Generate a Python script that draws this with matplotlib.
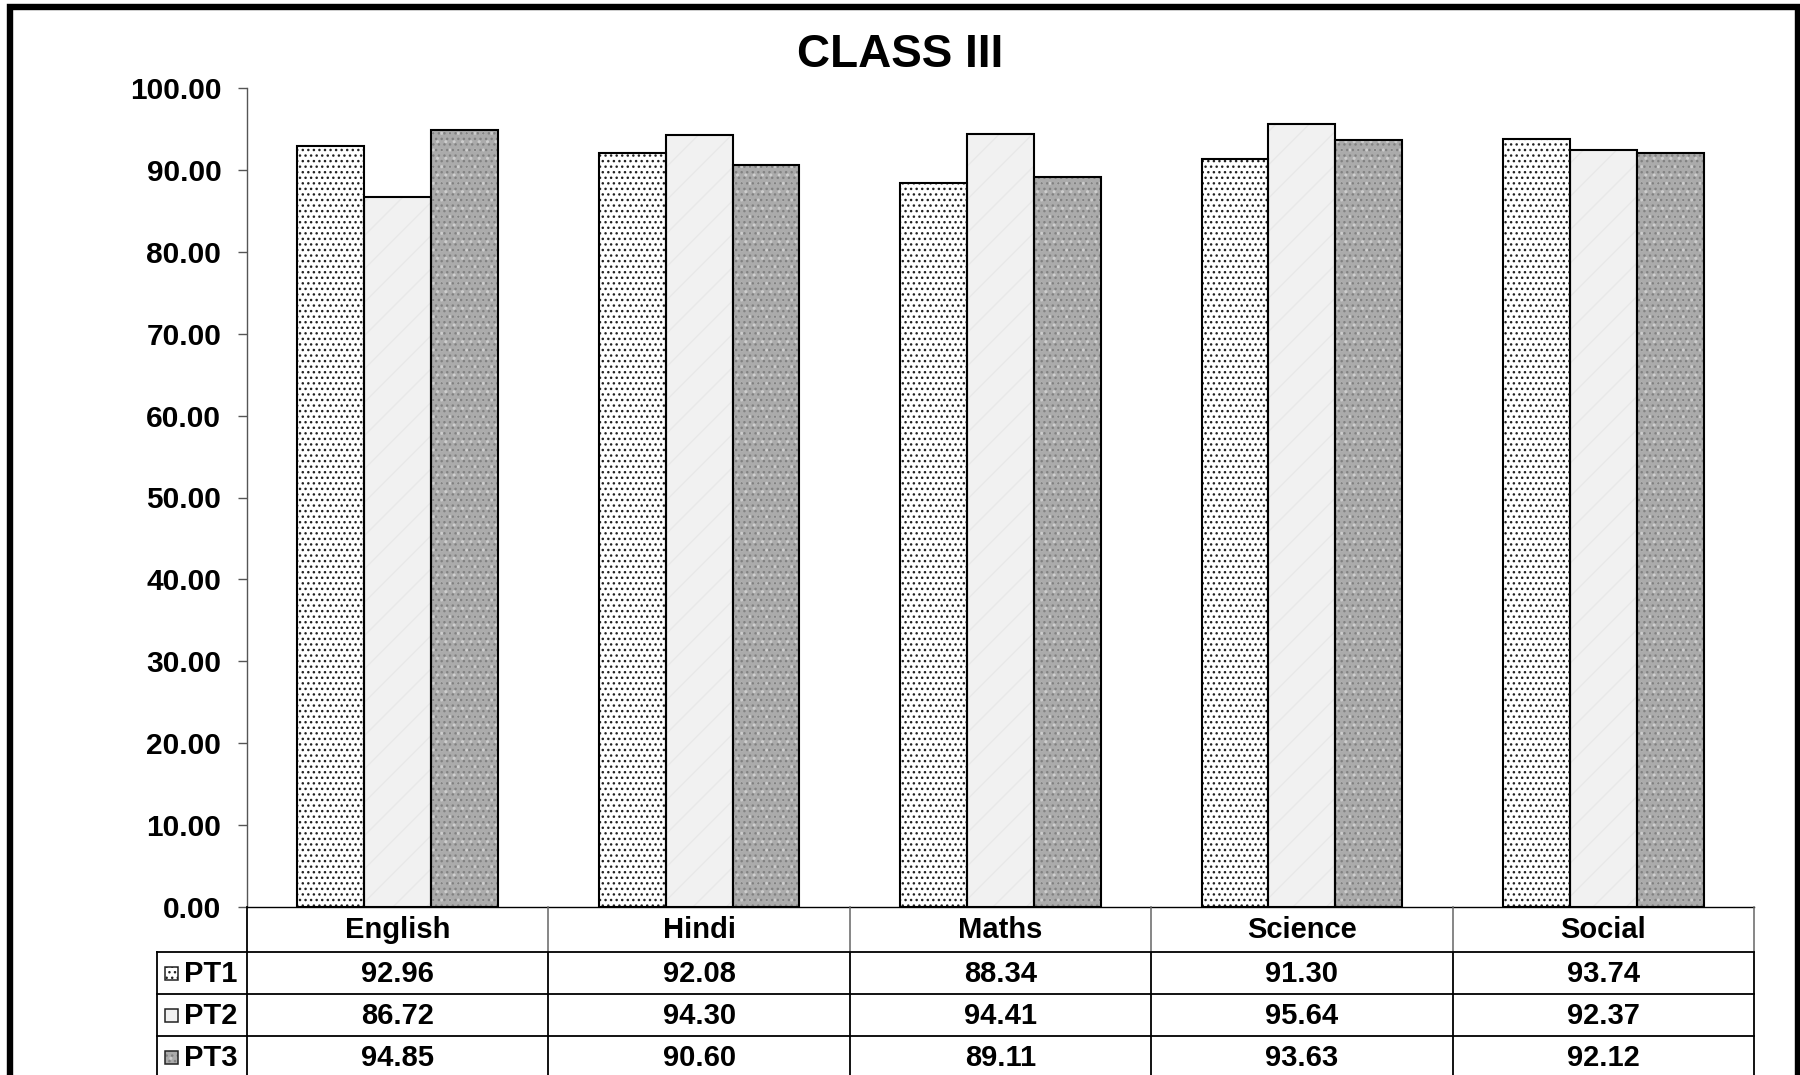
import matplotlib
matplotlib.use('Agg')
import matplotlib.pyplot as plt
from matplotlib.patches import Rectangle
import numpy as np

plt.rcParams['font.family'] = ['Liberation Sans', 'DejaVu Sans']
plt.rcParams['font.weight'] = 'bold'
plt.rcParams['hatch.linewidth'] = 1.0

subjects = ['English', 'Hindi', 'Maths', 'Science', 'Social']
tests = ['PT1', 'PT2', 'PT3']
pt1 = [92.96, 92.08, 88.34, 91.30, 93.74]
pt2 = [86.72, 94.30, 94.41, 95.64, 92.37]
pt3 = [94.85, 90.60, 89.11, 93.63, 92.12]
series = [pt1, pt2, pt3]

# fill + hatch layers per test (stipple, light marble, grey granite)
styles = [
    dict(face='white', layers=[('...', '#222222')]),
    dict(face='#f1f1f1', layers=[('/', '#e8e8e8')]),
    dict(face='#ababab', layers=[('..', '#cdcdcd'), ('...', '#828282')]),
]

W, H = 1800, 1075
fig = plt.figure(figsize=(W / 100, H / 100), dpi=100)

# main plot area (pixel layout of the reference)
left, right, top, base = 247, 1754, 88, 907
ax = fig.add_axes([left / W, 1 - base / H, (right - left) / W, (base - top) / H])

x = np.arange(len(subjects))
bw = 0.222

def draw_bar(a, xs, ys, st, w):
    a.bar(xs, ys, w, color=st['face'], linewidth=0, zorder=2)
    for h, c in st['layers']:
        a.bar(xs, ys, w, facecolor='none', edgecolor=c, hatch=h, linewidth=0, zorder=3)
    a.bar(xs, ys, w, facecolor='none', edgecolor='black', linewidth=1.5, zorder=4)

for k, (vals, st) in enumerate(zip(series, styles)):
    draw_bar(ax, x + (k - 1) * bw, vals, st, bw)

ax.set_xlim(-0.5, len(subjects) - 0.5)
ax.set_ylim(0, 100)
ticks = np.arange(0, 101, 10)
ax.set_yticks(ticks)
ax.set_yticklabels([f'{v:.2f}' for v in ticks], fontsize=21.5, fontweight='bold')
ax.set_xticks([])
ax.tick_params(axis='y', length=6.5, width=1.0, pad=12, color='#555555')
for s in ('top', 'right'):
    ax.spines[s].set_visible(False)
ax.spines['left'].set_color('#555555')
ax.spines['left'].set_linewidth(1.0)
ax.spines['bottom'].set_color('black')
ax.spines['bottom'].set_linewidth(1.0)

fig.text(0.5, 1 - 55 / H, 'CLASS III', ha='center', va='center',
         fontsize=33, fontweight='bold')

# data table under the plot
rows = [0, 45, 87, 129, 171]
tax = fig.add_axes([left / W, 1 - (base + rows[-1]) / H, (right - left) / W, rows[-1] / H])
tax.set_xlim(-0.5, len(subjects) - 0.5)
tax.set_ylim(rows[-1], 0)
tax.axis('off')
lab_x = -0.5 - 90 / ((right - left) / len(subjects))
kw = dict(color='black', linewidth=1.3, clip_on=False, solid_capstyle='projecting')

for r in rows[1:]:
    tax.plot([lab_x, len(subjects) - 0.5], [r, r], **kw)
tax.plot([-0.5, -0.5], [0, rows[-1]], **kw)
tax.plot([lab_x, lab_x], [rows[1], rows[-1]], **kw)
for j in range(len(subjects)):
    tax.plot([j + 0.5, j + 0.5], [0, rows[1]], color='#666666', linewidth=1.1, clip_on=False)
    tax.plot([j + 0.5, j + 0.5], [rows[1], rows[-1]], **kw)

for j, name in enumerate(subjects):
    tax.text(j, (rows[0] + rows[1]) / 2 + 1, name, ha='center', va='center',
             fontsize=21, fontweight='bold', clip_on=False)
for i, (lab, vals, st) in enumerate(zip(tests, series, styles)):
    yc = (rows[i + 1] + rows[i + 2]) / 2 + 1
    for j, v in enumerate(vals):
        tax.text(j, yc, f'{v:.2f}', ha='center', va='center',
                 fontsize=21, fontweight='bold', clip_on=False)
    # legend key + label
    kx = lab_x + 0.027
    kwid = 0.043
    ky = yc - 7
    tax.add_patch(Rectangle((kx, ky), kwid, 13, facecolor=st['face'], linewidth=0, clip_on=False))
    for h, c in st['layers']:
        tax.add_patch(Rectangle((kx, ky), kwid, 13, facecolor='none', edgecolor=c,
                                hatch=h, linewidth=0, clip_on=False))
    tax.add_patch(Rectangle((kx, ky), kwid, 13, facecolor='none', edgecolor='#222222',
                            linewidth=1.1, clip_on=False))
    tax.text(kx + kwid + 0.02, yc, lab, ha='left', va='center',
             fontsize=21, fontweight='bold', clip_on=False)

# outer frame
fig.add_artist(Rectangle((10 / W, -0.05), 1787.5 / W, 1.05 - 7.5 / H,
                         transform=fig.transFigure, facecolor='none',
                         edgecolor='black', linewidth=4.6))

fig.savefig('out.png', dpi=100)
